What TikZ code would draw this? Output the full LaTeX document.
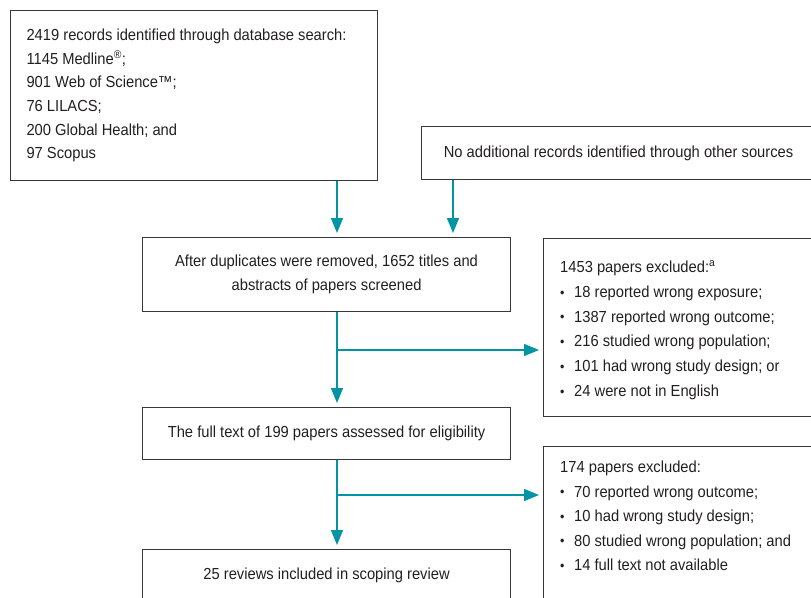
\documentclass[tikz,border=0pt]{standalone}
\usepackage{fontspec}
\setmainfont{Liberation Sans}[FakeStretch=0.92]
\usepackage{xcolor}
\usepackage{graphicx}
\usetikzlibrary{arrows.meta,positioning,calc}

\definecolor{tealarr}{RGB}{0,148,164}
\definecolor{boxline}{RGB}{55,55,55}
\definecolor{boxtext}{RGB}{35,31,32}
\newcommand{\bul}{\raisebox{0.3pt}{\scalebox{0.85}{\textbullet}}\hspace{0.6em}}

\begin{document}
\begin{tikzpicture}[
  x=1pt, y=-1pt,
  box/.style={draw=boxline, rectangle, line width=1.1pt, text=boxtext,
              font=\fontsize{16}{23.6}\selectfont, inner sep=0pt},
  txt/.style={text=boxtext, font=\fontsize{16}{24.4}\selectfont, inner sep=0pt, align=flush left},
  arr/.style={-{Triangle[width=12pt, length=15pt]}, draw=tealarr, line width=1.4pt,
              shorten >=4pt}
]
  \useasboundingbox (0,0) rectangle (811,597);
  \clip (0,0) rectangle (811,597);

  % identification
  \node[box, anchor=north west, align=flush left, text width=335pt, inner xsep=16pt,
        minimum height=170pt] (search) at (10,10)
       {2419 records identified through database search:\\
        1145 Medline\textsuperscript{\textregistered};\\
        901 Web of Science\texttrademark;\\
        76 LILACS;\\
        200 Global Health; and\\
        97 Scopus};
  \node[box, anchor=north west, minimum width=394pt, minimum height=53pt] (other) at (421,126)
       {No additional records identified through other sources};

  % screening
  \node[box, anchor=north west, align=center, minimum width=368pt, minimum height=74pt] (dedup) at (142,237)
       {After duplicates were removed, 1652 titles and\\abstracts of papers screened};
  \node[box, anchor=north west, minimum width=290pt, minimum height=178pt] (excl1) at (543,238) {};
  \node[txt, anchor=north west, font=\fontsize{16}{24.8}\selectfont] (excl1txt)
       at ($(excl1.north west)+(17,22)$)
       {1453 papers excluded:\textsuperscript{a}\\
        \bul 18 reported wrong exposure;\\
        \bul 1387 reported wrong outcome;\\
        \bul 216 studied wrong population;\\
        \bul 101 had wrong study design; or\\
        \bul 24 were not in English};

  % eligibility
  \node[box, anchor=north west, minimum width=368pt, minimum height=52pt] (full) at (142,407)
       {The full text of 199 papers assessed for eligibility};
  \node[box, anchor=north west, minimum width=290pt, minimum height=160pt] (excl2) at (543,446) {};
  \node[txt, anchor=north west] (excl2txt) at ($(excl2.north west)+(17,15)$)
       {174 papers excluded:\\
        \bul 70 reported wrong outcome;\\
        \bul 10 had wrong study design;\\
        \bul 80 studied wrong population; and\\
        \bul 14 full text not available};

  % included
  \node[box, anchor=north west, minimum width=368pt, minimum height=52pt] (incl) at (142,549)
       {25 reviews included in scoping review};

  % connectors
  \coordinate (spine) at (337,0);
  \coordinate (side) at (453,0);
  \coordinate (br1) at (337,350);
  \coordinate (br2) at (337,495);
  \draw[arr] (search.south -| spine) -- (dedup.north -| spine);
  \draw[arr] (other.south -| side) -- (dedup.north -| side);
  \draw[arr] (dedup.south -| spine) -- (full.north -| spine);
  \draw[arr] (br1) -- (excl1.west |- br1);
  \draw[arr] (full.south -| spine) -- (incl.north -| spine);
  \draw[arr] (br2) -- (excl2.west |- br2);
\end{tikzpicture}
\end{document}
